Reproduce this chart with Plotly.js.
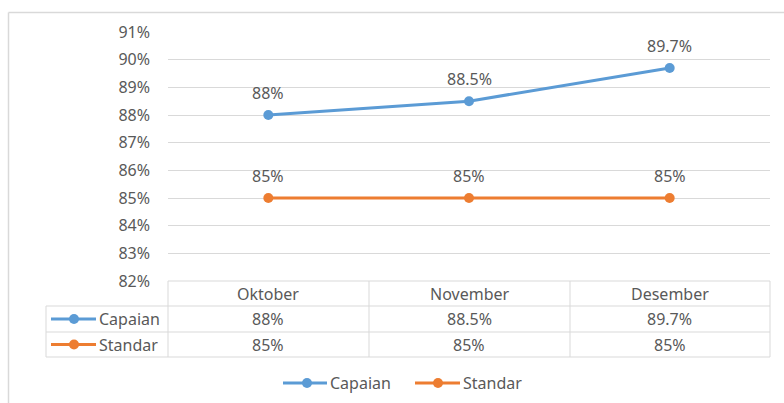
<!DOCTYPE html>
<html>
<head>
<meta charset="utf-8">
<script src="https://cdn.plot.ly/plotly-3.0.1.min.js"></script>
<style>html,body{margin:0;padding:0;background:#fff;}#chart{width:784px;height:403px;}</style>
</head>
<body>
<div id="chart"></div>
<script>
const months = ["Oktober", "November", "Desember"];
const seriesNames = ["Capaian", "Standar"];
const capaian = [88, 88.5, 89.7];
const standar = [85, 85, 85];
const yTicks = [82, 83, 84, 85, 86, 87, 88, 89, 90, 91];

const colors = ["#5B9BD5", "#ED7D31"];
const seriesValues = [capaian, standar];
const FONT = "Noto Sans, Open Sans, sans-serif";
const FS = 16;
const TXT = "#595959";
const GRID = "#D9D9D9";

const W = 784, H = 403;
const L = 168, R = 770, T = 32, B = 281;
const px2x = px => (px - L) / (R - L);
const py2y = py => (B - py) / (B - T);

function fmt(v) { return (Math.round(v * 10) / 10).toString() + "%"; }

const xIdx = months.map((m, i) => i);

const traces = seriesValues.map((vals, s) => ({
  type: "scatter",
  mode: "lines+markers",
  name: seriesNames[s],
  x: xIdx,
  y: vals,
  line: { color: colors[s], width: 3 },
  marker: { color: colors[s], size: 10 },
  hoverinfo: "skip",
  showlegend: false
}));

const annotations = [];
const shapes = [];

// data labels
seriesValues.forEach((vals, s) => {
  vals.forEach((v, i) => {
    annotations.push({
      x: xIdx[i], y: v, xref: "x", yref: "y",
      text: fmt(v), showarrow: false, yshift: 22,
      font: { family: FONT, size: FS, color: TXT }
    });
  });
});

// data table
const rowTops = [281, 306, 332, 357];
const colEdges = [168, 369, 570, 770];
const labelLeft = 46;
function hline(x0, x1, y) {
  shapes.push({ type: "line", xref: "paper", yref: "paper", x0: px2x(x0), x1: px2x(x1), y0: py2y(y), y1: py2y(y), line: { color: GRID, width: 1 } });
}
function vline(x, y0, y1) {
  shapes.push({ type: "line", xref: "paper", yref: "paper", x0: px2x(x), x1: px2x(x), y0: py2y(y0), y1: py2y(y1), line: { color: GRID, width: 1 } });
}
function legendKey(x0, x1, cx, cy, s) {
  shapes.push({ type: "line", xref: "paper", yref: "paper", x0: px2x(x0), x1: px2x(x1), y0: py2y(cy), y1: py2y(cy), line: { color: colors[s], width: 3 } });
  shapes.push({ type: "circle", xref: "paper", yref: "paper", x0: px2x(cx - 5), x1: px2x(cx + 5), y0: py2y(cy + 5), y1: py2y(cy - 5), fillcolor: colors[s], line: { color: colors[s], width: 0 } });
}
hline(168, 770, rowTops[0]);
for (let r = 1; r < rowTops.length; r++) hline(labelLeft, 770, rowTops[r]);
vline(labelLeft, rowTops[1], rowTops[3]);
colEdges.forEach(x => vline(x, rowTops[0], rowTops[3]));

months.forEach((m, i) => {
  annotations.push({
    x: xIdx[i], xref: "x", y: py2y((rowTops[0] + rowTops[1]) / 2), yref: "paper",
    text: m, showarrow: false, yanchor: "middle",
    font: { family: FONT, size: FS, color: TXT }
  });
  seriesValues.forEach((vals, s) => {
    annotations.push({
      x: xIdx[i], xref: "x", y: py2y((rowTops[s + 1] + rowTops[s + 2]) / 2), yref: "paper",
      text: fmt(vals[i]), showarrow: false, yanchor: "middle",
      font: { family: FONT, size: FS, color: TXT }
    });
  });
});

seriesNames.forEach((n, s) => {
  const cy = (rowTops[s + 1] + rowTops[s + 2]) / 2;
  legendKey(51, 96, 74, cy, s);
  annotations.push({
    x: px2x(97), xref: "paper", y: py2y(cy), yref: "paper",
    text: n, showarrow: false, xanchor: "left", yanchor: "middle",
    font: { family: FONT, size: FS, color: TXT }
  });
});

// bottom legend
const legendItems = [{ x0: 283, x1: 327, cx: 307, tx: 328 }, { x0: 415, x1: 460, cx: 438, tx: 461 }];
seriesNames.forEach((n, s) => {
  const it = legendItems[s];
  legendKey(it.x0, it.x1, it.cx, 383, s);
  annotations.push({
    x: px2x(it.tx), xref: "paper", y: py2y(383), yref: "paper",
    text: n, showarrow: false, xanchor: "left", yanchor: "middle",
    font: { family: FONT, size: FS, color: TXT }
  });
});

// outer chart border (top and left)
shapes.push({ type: "line", xref: "paper", yref: "paper", x0: px2x(8.5), x1: px2x(784), y0: py2y(12.5), y1: py2y(12.5), line: { color: GRID, width: 1.5 } });
shapes.push({ type: "line", xref: "paper", yref: "paper", x0: px2x(8.5), x1: px2x(8.5), y0: py2y(12.5), y1: py2y(403), line: { color: GRID, width: 1.5 } });

const layout = {
  width: W, height: H,
  margin: { l: L, r: W - R, t: T, b: H - B, pad: 0 },
  paper_bgcolor: "#fff", plot_bgcolor: "#fff",
  font: { family: FONT, size: FS, color: TXT },
  showlegend: false,
  xaxis: {
    range: [-0.5, 2.5], showticklabels: false, showgrid: false, zeroline: false,
    showline: false, ticks: "", fixedrange: true
  },
  yaxis: {
    range: [yTicks[0], yTicks[yTicks.length - 1]],
    tickvals: yTicks, ticktext: yTicks.map(v => v + "%"),
    showgrid: true, gridcolor: GRID, gridwidth: 1, zeroline: false, showline: false,
    ticks: "", ticklabelstandoff: 17, fixedrange: true
  },
  shapes: shapes,
  annotations: annotations
};

Plotly.newPlot("chart", traces, layout, { displayModeBar: false, staticPlot: true });
</script>
</body>
</html>
